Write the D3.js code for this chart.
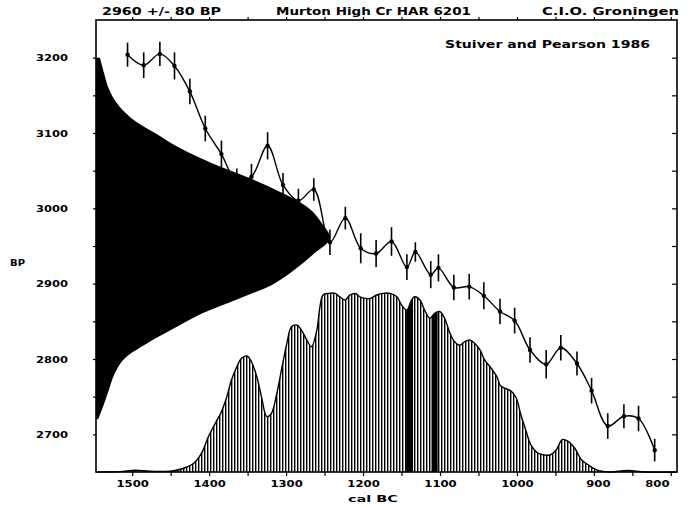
<!DOCTYPE html>
<html>
<head>
<meta charset="utf-8">
<script src="https://cdn.jsdelivr.net/npm/d3@7"></script>
<style>
body { margin: 0; background: #fff; }
svg text { font-family: "DejaVu Sans", sans-serif; font-weight: bold; fill: #000; }
</style>
</head>
<body>
<div id="chart"></div>
<script>
// calibration curve (Stuiver & Pearson 1986), cal BC vs BP
const calYears = [1506,1485,1464,1445,1425,1405,1384,1364,1345,1324,1304,1284,1264,1243,1223,1203,1183,1163,1143,1132,1112,1102,1082,1062,1043,1022,1003,983,962,943,922,903,882,861,842,821];
const calBP = [3204,3190,3205,3189,3155,3106,3072,3036,3042,3083,3031,3010,3025,2955,2987,2947,2940,2956,2922,2942,2912,2921,2895,2896,2884,2863,2851,2812,2793,2815,2794,2758,2711,2724,2721,2679];
const calErr = [16,17,16,18,17,17,18,17,17,18,16,16,15,17,15,20,18,19,17,13,18,18,17,17,18,17,17,17,19,17,16,17,17,16,17,15];

// calibrated probability (relative), cal BC
const probYears = [1546,1516,1496,1477,1457,1446,1433,1420,1410,1401,1392,1384,1377,1371,1364,1358,1351,1345,1338,1332,1325,1319,1312,1306,1299,1293,1286,1280,1273,1267,1260,1256,1252,1245,1236,1230,1223,1217,1210,1204,1197,1191,1182,1174,1165,1156,1150,1143,1137,1133,1126,1120,1113,1107,1100,1094,1087,1081,1074,1068,1061,1055,1048,1042,1035,1026,1021,1008,1001,995,988,982,973,964,957,949,941,934,925,916,907,899,892,879,856,834,792];
const probVals = [0,0.002,0.01,0.004,0.003,0.007,0.021,0.049,0.104,0.197,0.272,0.337,0.421,0.514,0.588,0.635,0.648,0.616,0.532,0.421,0.309,0.328,0.44,0.57,0.719,0.812,0.821,0.793,0.737,0.7,0.793,0.923,0.989,0.998,0.998,0.978,0.961,0.989,0.997,0.979,0.97,0.97,0.989,0.998,0.998,0.979,0.933,0.905,0.961,0.979,0.961,0.905,0.859,0.887,0.896,0.859,0.775,0.728,0.709,0.728,0.737,0.719,0.682,0.626,0.588,0.532,0.48,0.453,0.415,0.321,0.227,0.153,0.106,0.095,0.095,0.123,0.181,0.173,0.134,0.067,0.039,0.017,0.006,0,0.008,0,0];
const denseRanges = [[1144, 1135], [1111, 1103]];

// radiocarbon date 2960 +/- 80 BP (relative probability)
const rcBP = [3200,3180,3160,3140,3120,3100,3080,3060,3040,3020,3000,2980,2960,2940,2920,2900,2880,2860,2840,2820,2800,2780,2760,2740,2720];
const rcProb = [0.017,0.034,0.053,0.088,0.15,0.252,0.359,0.496,0.658,0.799,0.91,0.966,1,0.932,0.855,0.761,0.61,0.45,0.33,0.214,0.12,0.079,0.056,0.034,0.009];

const xTicks = [1500,1450,1400,1350,1300,1250,1200,1150,1100,1050,1000,950,900,850,800];
const yTicks = [3200,3150,3100,3050,3000,2950,2900,2850,2800,2750,2700];

const W = 688, H = 508;
const plotL = 96, plotR = 677, plotT = 20, plotB = 472;

const svg = d3.select("#chart").append("svg")
    .attr("width", W)
    .attr("height", H);

const x = d3.scaleLinear().domain([1547, 792]).range([plotL, plotR]);
const y = d3.scaleLinear().domain([2650, 3250]).range([plotB, plotT]);
const py = d3.scaleLinear().domain([0, 1]).range([plotB, 293]);
const gx = d3.scaleLinear().domain([0, 1]).range([plotL, 330]);

const defs = svg.append("defs");
defs.append("pattern")
    .attr("id", "hatch")
    .attr("patternUnits", "userSpaceOnUse")
    .attr("width", 3).attr("height", 10)
    .append("rect")
    .attr("width", 1.4).attr("height", 10)
    .attr("fill", "#000");

const clip = defs.append("clipPath").attr("id", "dense");
denseRanges.forEach(r => {
    clip.append("rect")
        .attr("x", x(r[0])).attr("y", plotT)
        .attr("width", x(r[1]) - x(r[0])).attr("height", plotB - plotT);
});

// histogram of calibrated ages
const prob = probYears.map((d, i) => ({ year: d, v: probVals[i] }));
const probArea = d3.area()
    .x(d => x(d.year))
    .y0(py(0))
    .y1(d => py(d.v))
    .curve(d3.curveCatmullRom);

svg.append("path")
    .datum(prob)
    .attr("d", probArea)
    .attr("fill", "url(#hatch)");

svg.append("path")
    .datum(prob)
    .attr("d", probArea)
    .attr("fill", "#000")
    .attr("clip-path", "url(#dense)");

svg.append("path")
    .datum(prob)
    .attr("d", probArea.lineY1())
    .attr("fill", "none")
    .attr("stroke", "#000")
    .attr("stroke-width", 1.4);

// radiocarbon distribution on the BP axis
const rc = rcBP.map((d, i) => ({ bp: d, v: rcProb[i] }));
svg.append("path")
    .datum(rc)
    .attr("d", d3.area()
        .y(d => y(d.bp))
        .x0(gx(0))
        .x1(d => gx(d.v))
        .curve(d3.curveCatmullRom))
    .attr("fill", "#000");

// calibration curve
const cal = calYears.map((d, i) => ({ year: d, bp: calBP[i], err: calErr[i] }));
svg.append("path")
    .datum(cal)
    .attr("d", d3.line()
        .x(d => x(d.year))
        .y(d => y(d.bp))
        .curve(d3.curveCatmullRom))
    .attr("fill", "none")
    .attr("stroke", "#000")
    .attr("stroke-width", 1.4);

svg.append("g").selectAll("line")
    .data(cal)
    .join("line")
    .attr("x1", d => x(d.year)).attr("x2", d => x(d.year))
    .attr("y1", d => y(d.bp + d.err)).attr("y2", d => y(d.bp - d.err))
    .attr("stroke", "#000")
    .attr("stroke-width", 1.6);

svg.append("g").selectAll("circle")
    .data(cal)
    .join("circle")
    .attr("cx", d => x(d.year))
    .attr("cy", d => y(d.bp))
    .attr("r", 2.2)
    .attr("fill", "#000");

// frame and axes
svg.append("rect")
    .attr("x", plotL).attr("y", plotT)
    .attr("width", plotR - plotL).attr("height", plotB - plotT)
    .attr("fill", "none")
    .attr("stroke", "#000")
    .attr("stroke-width", 1.6);

const xAxis = svg.append("g")
    .attr("transform", `translate(0,${plotB})`)
    .call(d3.axisBottom(x).tickValues(xTicks).tickSize(4).tickPadding(4)
        .tickFormat(d => d % 100 === 0 ? d : ""));
xAxis.selectAll("text")
    .attr("font-size", 9.5)
    .attr("textLength", d => d % 100 === 0 ? String(d).length * 8.1 : null)
    .attr("lengthAdjust", "spacingAndGlyphs")
    .attr("dx", d => d === 800 ? -14 : (d === 900 ? 4 : 0));

svg.append("g")
    .attr("transform", `translate(0,${plotT})`)
    .call(d3.axisTop(x).tickValues(xTicks).tickSize(3).tickFormat(""));

const yAxis = svg.append("g")
    .attr("transform", `translate(${plotL},0)`)
    .call(d3.axisLeft(y).tickValues(yTicks).tickSize(3).tickPadding(25)
        .tickFormat(d => d % 100 === 0 ? d : ""));
yAxis.selectAll("text")
    .attr("font-size", 9.5)
    .attr("textLength", d => d % 100 === 0 ? 32 : null)
    .attr("lengthAdjust", "spacingAndGlyphs");

svg.append("g")
    .attr("transform", `translate(${plotR},0)`)
    .call(d3.axisLeft(y).tickValues(yTicks).tickSize(5).tickFormat(""));

svg.selectAll(".domain").remove();
svg.selectAll(".tick line").attr("stroke", "#000").attr("stroke-width", 1.2);

// texts
function label(str, tx, ty, len, size) {
    svg.append("text")
        .attr("x", tx).attr("y", ty)
        .attr("font-size", size)
        .attr("textLength", len)
        .attr("lengthAdjust", "spacingAndGlyphs")
        .text(str);
}
label("2960 +/- 80 BP", 102, 15, 119, 10);
label("Murton High Cr HAR 6201", 276, 15, 195, 10);
label("C.I.O. Groningen", 542, 15, 137, 10);
label("Stuiver and Pearson 1986", 445, 48, 205, 10);
label("BP", 10, 266, 15, 9.5);
label("cal BC", 348, 502, 50, 9.5);
</script>
</body>
</html>
